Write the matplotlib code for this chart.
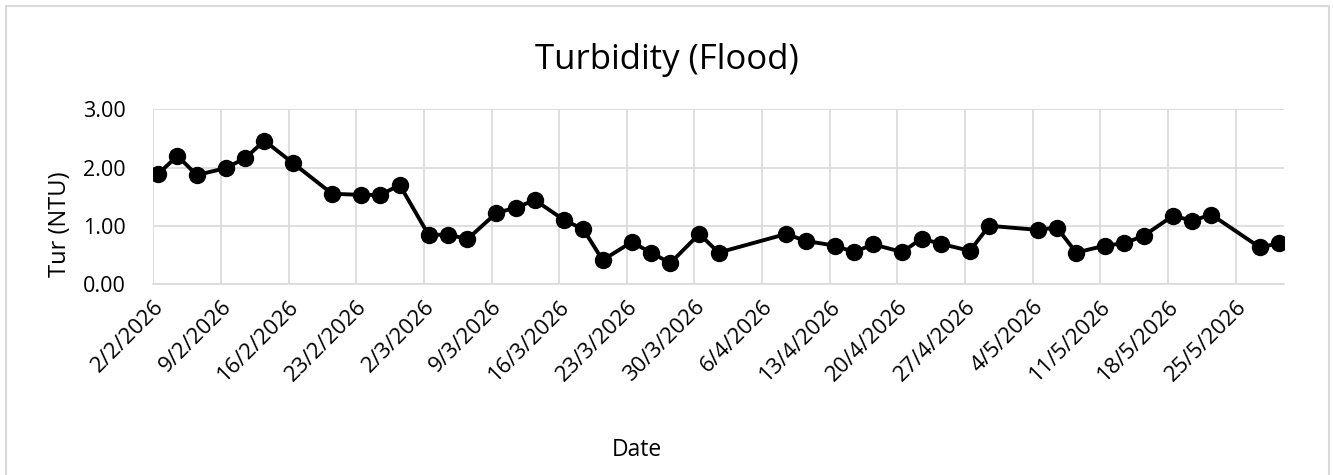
import datetime as dt
import matplotlib
matplotlib.use("Agg")
import matplotlib.pyplot as plt
from matplotlib.patches import Rectangle

plt.rcParams['font.family'] = ['Open Sans', 'DejaVu Sans']

# sample dates (d/m/2026) and turbidity readings
dates = ["2/2", "4/2", "6/2", "9/2", "11/2", "13/2", "16/2", "20/2", "23/2", "25/2",
         "27/2", "2/3", "4/3", "6/3", "9/3", "11/3", "13/3", "16/3", "18/3", "20/3",
         "23/3", "25/3", "27/3", "30/3", "1/4", "8/4", "10/4", "13/4", "15/4", "17/4",
         "20/4", "22/4", "24/4", "27/4", "29/4", "4/5", "6/5", "8/5", "11/5", "13/5",
         "15/5", "18/5", "20/5", "22/5", "27/5", "29/5"]
turbidity = [1.89, 2.20, 1.87, 1.99, 2.16, 2.46, 2.07, 1.55, 1.53, 1.53,
             1.70, 0.84, 0.85, 0.77, 1.22, 1.31, 1.44, 1.10, 0.94, 0.41,
             0.72, 0.54, 0.36, 0.86, 0.54, 0.86, 0.74, 0.66, 0.55, 0.68,
             0.55, 0.78, 0.69, 0.57, 1.00, 0.93, 0.97, 0.54, 0.66, 0.70,
             0.83, 1.17, 1.09, 1.19, 0.63, 0.70]
y_ticks = [0, 1, 2, 3]

def parse(s):
    d, m = s.split("/")
    return dt.datetime(2026, int(m), int(d))

x = [parse(s) + dt.timedelta(hours=12) for s in dates]  # centre of each day slot
start = parse(dates[0])
end = parse(dates[-1]) + dt.timedelta(days=1)
tick_dates = []
t = start
while t < end:
    tick_dates.append(t)
    t += dt.timedelta(days=7)

fig = plt.figure(figsize=(13.33, 4.75), dpi=100)
ax = fig.add_axes([0.115, 0.402, 0.8482, 0.368])

# chart area border
fig.patches.append(Rectangle((6 / 1333, -0.1), 1323 / 1333, 1.1 - 6 / 475,
                             transform=fig.transFigure, fill=False,
                             edgecolor='#d9d9d9', linewidth=1.5))

ax.plot(x, turbidity, color='black', linewidth=2.8, marker='o', markersize=11.5, zorder=3)

ax.set_xlim(start, end)
ax.set_ylim(0, 3)
ax.set_yticks(y_ticks)
ax.set_yticklabels([f"{v:.2f}" for v in y_ticks])
ax.set_xticks(tick_dates)
ax.set_xticklabels([f"{d.day}/{d.month}/{d.year}" for d in tick_dates],
                   rotation=45, ha='right', rotation_mode='anchor', fontsize=16)

ax.grid(True, color='#d9d9d9', linewidth=1.2)
ax.set_axisbelow(True)
for s in ['top', 'right', 'left']:
    ax.spines[s].set_visible(False)
ax.spines['bottom'].set_color('#d9d9d9')
ax.spines['bottom'].set_linewidth(1.2)
ax.tick_params(axis='both', length=0, labelsize=15.5, colors='black')
ax.tick_params(axis='x', pad=9, labelsize=16)
ax.tick_params(axis='y', pad=20)

fig.text(0.5, 0.874, "Turbidity (Flood)", fontsize=25, ha='center', va='center')
ax.set_ylabel("Tur (NTU)", fontsize=17)
ax.yaxis.set_label_coords(-0.072, 0.34)
fig.text(0.478, 0.052, "Date", fontsize=16.5, ha='center', va='center')

fig.savefig("out.png", dpi=100)
